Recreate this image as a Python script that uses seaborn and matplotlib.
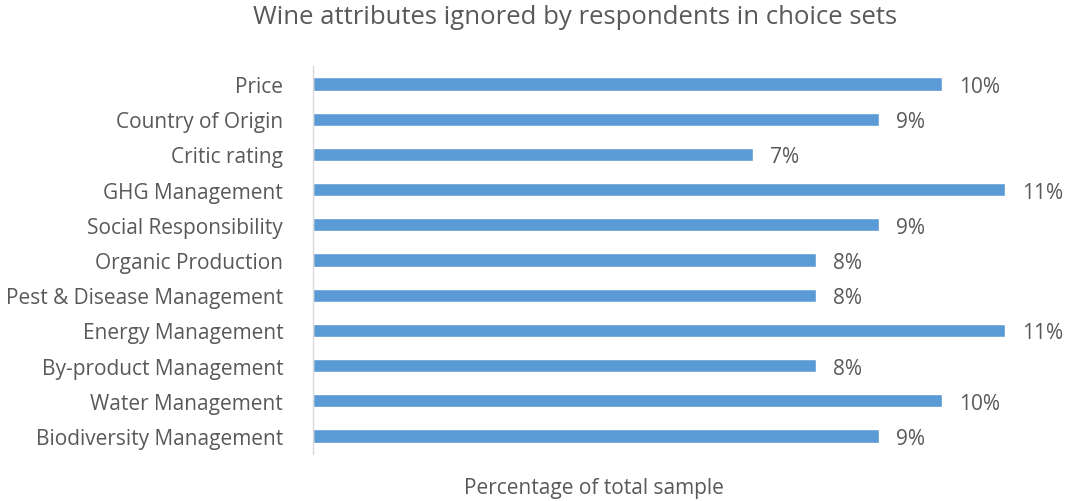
import matplotlib
matplotlib.use("Agg")
import matplotlib.pyplot as plt
import seaborn as sns
import pandas as pd

categories = ["Price", "Country of Origin", "Critic rating", "GHG Management",
              "Social Responsibility", "Organic Production", "Pest & Disease Management",
              "Energy Management", "By-product Management", "Water Management",
              "Biodiversity Management"]
values = [10, 9, 7, 11, 9, 8, 8, 11, 8, 10, 9]
value_labels = ["10%", "9%", "7%", "11%", "9%", "8%", "8%", "11%", "8%", "10%", "9%"]

sns.set_theme(style="white")
plt.rcParams["font.family"] = ["Open Sans", "DejaVu Sans"]
text_color = "#595959"

df = pd.DataFrame({"attr": categories, "pct": values})

fig = plt.figure(figsize=(10.66, 5.02), dpi=100)
ax = fig.add_axes([313/1066, 1-454.6/502, (1005-313)/1066, (454.6-67.4)/502])
sns.barplot(data=df, y="attr", x="pct", orient="h", color="#5B9BD5",
            saturation=1, width=0.37, ax=ax)
ax.set_xlim(0, 11)
ax.set_ylim(len(categories)-0.5, -0.5)
for i, (v, lab) in enumerate(zip(values, value_labels)):
    ax.text(v + 0.27, i, lab, va="center_baseline", ha="left", fontsize=15,
            color=text_color, clip_on=False)

for s in ["top", "right", "bottom"]:
    ax.spines[s].set_visible(False)
ax.spines["left"].set_color("#D9D9D9")
ax.spines["left"].set_linewidth(1.0)
ax.set_xticks([])
ax.set_xlabel("")
ax.set_ylabel("")
ax.tick_params(axis="y", length=0, pad=21.5, labelsize=15, labelcolor=text_color)

fig.text(575/1066, 1-17/502, "Wine attributes ignored by respondents in choice sets",
         ha="center", va="center", fontsize=18.5, color=text_color)
fig.text(594/1066, 1-489/502, "Percentage of total sample",
         ha="center", va="center", fontsize=15, color=text_color)

fig.savefig("out.png", dpi=100)
